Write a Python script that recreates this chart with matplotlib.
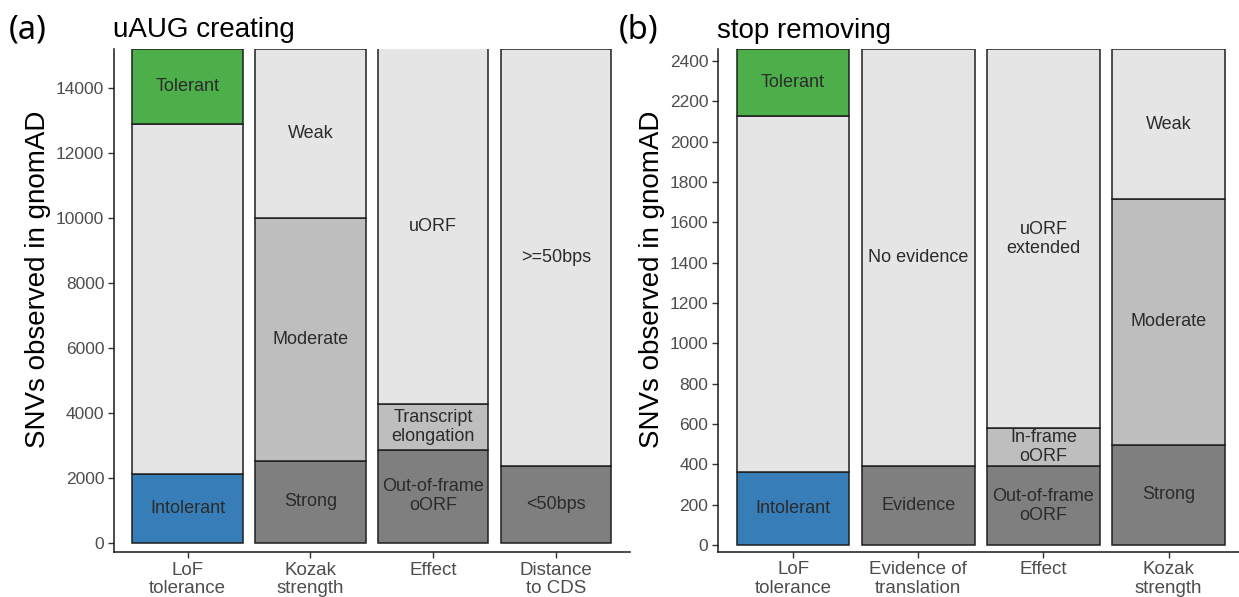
import matplotlib
matplotlib.use("Agg")
import matplotlib.pyplot as plt

plt.rcParams["font.family"] = ["Liberation Sans", "DejaVu Sans"]

# ---- data: stacked counts per category, bottom segment first ----
a_categories = ["LoF\ntolerance", "Kozak\nstrength", "Effect", "Distance\nto CDS"]
a_lof = [2110, 10770, 2320]
a_kozak = [2520, 7460, 5220]
a_effect = [2850, 1405, 10945]
a_distance = [2355, 12845]
a_lof_labels = ["Intolerant", "", "Tolerant"]
a_kozak_labels = ["Strong", "Moderate", "Weak"]
a_effect_labels = ["Out-of-frame\noORF", "Transcript\nelongation", "uORF"]
a_distance_labels = ["<50bps", ">=50bps"]
a_yticks = [0, 2000, 4000, 6000, 8000, 10000, 12000, 14000]

b_categories = ["LoF\ntolerance", "Evidence of\ntranslation", "Effect", "Kozak\nstrength"]
b_lof = [363, 1763, 334]
b_evidence = [394, 2066]
b_effect = [391, 187, 1882]
b_kozak = [498, 1218, 744]
b_lof_labels = ["Intolerant", "", "Tolerant"]
b_evidence_labels = ["Evidence", "No evidence"]
b_effect_labels = ["Out-of-frame\noORF", "In-frame\noORF", "uORF\nextended"]
b_kozak_labels = ["Strong", "Moderate", "Weak"]
b_yticks = [0, 200, 400, 600, 800, 1000, 1200, 1400, 1600, 1800, 2000, 2200, 2400]

# ---- fills ----
GREEN = "#4DAF4A"
BLUE = "#377EB8"
LIGHT = "#E5E5E5"
MID = "#BEBEBE"
DARK = "#7F7F7F"

a_colors = [[BLUE, LIGHT, GREEN], [DARK, MID, LIGHT], [DARK, MID, LIGHT], [DARK, LIGHT]]
b_colors = [[BLUE, LIGHT, GREEN], [DARK, LIGHT], [DARK, MID, LIGHT], [DARK, MID, LIGHT]]

W, H = 1239, 597
fig = plt.figure(figsize=(W / 100, H / 100), dpi=100)


def px_axes(left, right, top, bottom):
    return fig.add_axes([left / W, (H - bottom) / H, (right - left) / W, (bottom - top) / H])


def draw_panel(ax, categories, stacks, labels, colors, yticks, ylim, title, tag, tag_x,
               ylabel_right_px, left_px, width_px, height_px, top_px):
    for i, (vals, labs, cols) in enumerate(zip(stacks, labels, colors)):
        x = i + 1
        bottom = 0
        for v, lab, c in zip(vals, labs, cols):
            ax.bar(x, v, bottom=bottom, width=0.9, color=c, edgecolor="#1f1f1f",
                   linewidth=1.1, zorder=2)
            if lab:
                ax.text(x, bottom + v / 2, lab, ha="center", va="center",
                        fontsize=13, color="#2b2b2b", linespacing=1.15, zorder=3)
            bottom += v
    ax.set_xlim(0.4, 4.6)
    ax.set_ylim(*ylim)
    ax.set_xticks(range(1, len(categories) + 1))
    ax.set_xticklabels(categories, fontsize=13.5, color="#4D4D4D", linespacing=1.1)
    ax.set_yticks(yticks)
    ax.set_yticklabels([str(t) for t in yticks], fontsize=12.5, color="#4D4D4D")
    ax.tick_params(axis="both", length=4, width=1.0, color="#333333", pad=3)
    for side in ("top", "right"):
        ax.spines[side].set_visible(False)
    for side in ("left", "bottom"):
        ax.spines[side].set_linewidth(1.1)
        ax.spines[side].set_color("#1a1a1a")
    ax.set_ylabel("SNVs observed in gnomAD", fontsize=20, color="black")
    ax.yaxis.set_label_coords((ylabel_right_px - left_px) / width_px,
                              1 - (279 - top_px) / height_px)
    ax.set_title(title, loc="left", fontsize=20, pad=8, x=-0.002)
    fig.text(tag_x / W, 1 - 30 / H, tag, fontsize=23.5, family=["Noto Sans", "DejaVu Sans"],
             ha="left", va="center")


ax_a = px_axes(114, 629.5, 48.5, 552.3)
draw_panel(ax_a, a_categories,
           [a_lof, a_kozak, a_effect, a_distance],
           [a_lof_labels, a_kozak_labels, a_effect_labels, a_distance_labels],
           a_colors, a_yticks, (-295, 15200), "uAUG creating", "(a)", 9,
           51, 114, 515.5, 503.8, 48.5)

ax_b = px_axes(718, 1243.8, 49, 551.7)
draw_panel(ax_b, b_categories,
           [b_lof, b_evidence, b_effect, b_kozak],
           [b_lof_labels, b_evidence_labels, b_effect_labels, b_kozak_labels],
           b_colors, b_yticks, (-33, 2460), "stop removing", "(b)", 619,
           665, 718, 525.8, 502.7, 49)

fig.savefig("out.png", dpi=100)
